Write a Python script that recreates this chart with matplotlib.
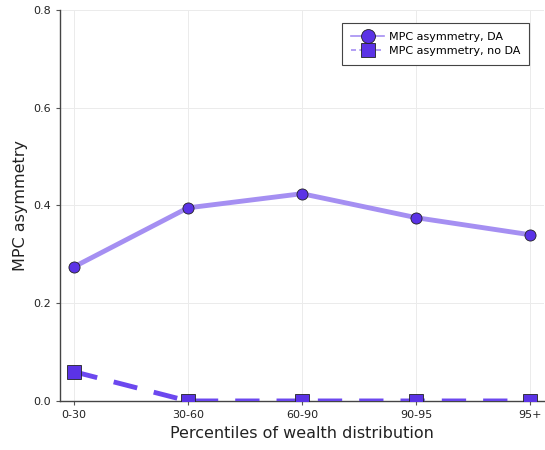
import numpy as np
import matplotlib.pyplot as plt
from matplotlib.lines import Line2D

# === DATA ===
groups = ['0-30', '30-60', '60-90', '90-95', '95+']
mpc_da = [0.274, 0.395, 0.424, 0.375, 0.340]
mpc_no_da = [0.060, 0.0, 0.0, 0.0, 0.0]

# === PLOT ===
fig = plt.figure(figsize=(5.45, 4.5), dpi=100)
ax = fig.add_axes([0.110, 0.109, 0.888, 0.869])

x = np.arange(len(groups))
ax.plot(x, mpc_da, color='#a58ff2', lw=3.5, zorder=3,
        marker='o', ms=8, mfc='#5b33e6', mec='#222222', mew=0.6)
ax.plot(x, mpc_no_da, color='#6c48ef', lw=3.5, ls=(0, (5, 3.5)), zorder=3,
        marker='s', ms=9.5, mfc='#5b33e6', mec='#222222', mew=0.6)

ax.set_xlim(-0.12, 4.12)
ax.set_ylim(0, 0.8)
ax.set_xticks(x)
ax.set_xticklabels(groups)
ax.set_yticks([0.0, 0.2, 0.4, 0.6, 0.8])
ax.set_yticklabels(['0.0', '0.2', '0.4', '0.6', '0.8'])
ax.tick_params(labelsize=8, length=3, color='#555555', labelcolor='#222222')
ax.grid(True, color='#ebebeb', lw=0.7)
ax.set_axisbelow(True)
for s in ['top', 'right']:
    ax.spines[s].set_visible(False)
for s in ['left', 'bottom']:
    ax.spines[s].set_color('#444444')
    ax.spines[s].set_linewidth(1.0)

ax.set_xlabel('Percentiles of wealth distribution', fontsize=11.5, color='#222222')
ax.set_ylabel('MPC asymmetry', fontsize=11.5, color='#222222')

# legend: thin lines with big markers, like the GR backend
handles = [
    Line2D([], [], color='#a58ff2', lw=1.2, marker='o', ms=10,
           mfc='#5b33e6', mec='#222222', mew=0.6),
    Line2D([], [], color='#a58ff2', lw=1.2, ls=(0, (3, 2)), marker='s', ms=10,
           mfc='#5b33e6', mec='#222222', mew=0.6),
]
labels = ['MPC asymmetry, DA', 'MPC asymmetry, no DA']
leg = ax.legend(handles, labels, loc='upper right', bbox_to_anchor=(0.969, 0.967),
                borderaxespad=0, fontsize=8, fancybox=False, framealpha=1,
                edgecolor='#444444', handlelength=3.0, handletextpad=0.4,
                borderpad=0.8, labelspacing=0.4)
leg.get_frame().set_linewidth(0.8)

fig.savefig('out.png', dpi=100)
